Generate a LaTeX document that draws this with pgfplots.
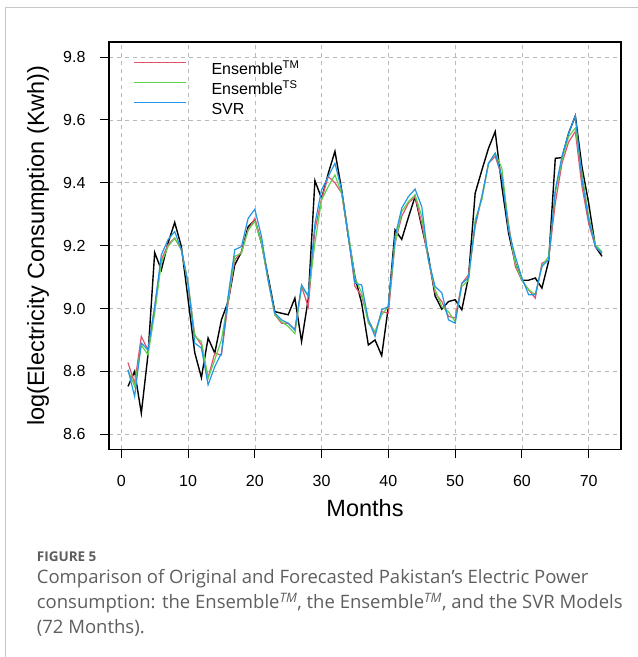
\documentclass[border=0pt]{standalone}
\usepackage{fontspec}
\setmainfont{Liberation Sans}
\newfontfamily\capfont{Open Sans}
\usepackage{pgfplots}
\usepackage{pgfplotstable}
\pgfplotsset{compat=1.18}
\definecolor{rtm}{HTML}{DF536B}
\definecolor{rts}{HTML}{61D04F}
\definecolor{rsvr}{HTML}{2297E6}
\definecolor{capgray}{HTML}{5E5E5E}
\definecolor{framegray}{HTML}{C8C8C8}

\pgfplotstableread{
m orig tm ts svr
1 8.752 8.828 8.805 8.805
2 8.800 8.762 8.752 8.720
3 8.667 8.911 8.884 8.890
4 8.853 8.868 8.852 8.868
5 9.178 9.006 8.985 9.006
6 9.123 9.155 9.144 9.171
7 9.208 9.203 9.197 9.219
8 9.274 9.224 9.224 9.245
9 9.197 9.187 9.187 9.187
10 9.030 9.080 9.080 9.080
11 8.860 8.916 8.911 8.890
12 8.780 8.884 8.895 8.874
13 8.906 8.780 8.778 8.757
14 8.858 8.858 8.837 8.815
15 8.964 8.852 8.900 8.858
16 9.022 9.017 9.027 9.040
17 9.139 9.155 9.166 9.187
18 9.180 9.180 9.176 9.197
19 9.260 9.250 9.250 9.287
20 9.282 9.287 9.277 9.316
21 9.208 9.208 9.208 9.229
22 9.100 9.090 9.090 9.090
23 8.990 8.980 8.980 8.985
24 8.985 8.953 8.958 8.964
25 8.980 8.953 8.943 8.953
26 9.033 8.932 8.920 8.932
27 8.895 9.070 9.070 9.075
28 9.030 9.006 9.040 9.040
29 9.407 9.250 9.208 9.270
30 9.350 9.350 9.346 9.378
31 9.430 9.420 9.388 9.420
32 9.500 9.400 9.425 9.462
33 9.378 9.367 9.367 9.378
34 9.230 9.230 9.240 9.230
35 9.100 9.070 9.097 9.080
36 9.017 9.040 9.050 9.075
37 8.884 8.964 8.953 8.964
38 8.900 8.922 8.927 8.911
39 8.850 8.990 8.980 8.996
40 9.006 8.985 9.006 9.006
41 9.250 9.208 9.208 9.229
42 9.220 9.293 9.308 9.319
43 9.290 9.335 9.340 9.356
44 9.356 9.356 9.362 9.380
45 9.260 9.270 9.293 9.324
46 9.166 9.155 9.155 9.155
47 9.040 9.050 9.060 9.070
48 8.998 9.022 9.006 9.050
49 9.022 8.975 8.990 8.964
50 9.028 8.970 8.958 8.953
51 8.996 9.080 9.070 9.080
52 9.100 9.107 9.090 9.097
53 9.367 9.260 9.282 9.270
54 9.440 9.356 9.346 9.356
55 9.510 9.462 9.462 9.462
56 9.563 9.484 9.494 9.494
57 9.388 9.420 9.446 9.420
58 9.240 9.270 9.260 9.250
59 9.145 9.134 9.144 9.166
60 9.090 9.090 9.090 9.097
61 9.090 9.060 9.060 9.044
62 9.097 9.033 9.044 9.044
63 9.065 9.144 9.134 9.134
64 9.150 9.155 9.166 9.155
65 9.478 9.335 9.367 9.378
66 9.480 9.462 9.473 9.484
67 9.558 9.530 9.547 9.558
68 9.613 9.563 9.574 9.613
69 9.450 9.388 9.430 9.410
70 9.335 9.270 9.293 9.282
71 9.197 9.197 9.203 9.197
72 9.166 9.176 9.180 9.176
}\consumption

\begin{document}
\begin{tikzpicture}
\useasboundingbox (0,0) rectangle (638pt,657pt);
% page frame
\draw[framegray, line width=1pt] (5pt,0pt) -- (5pt,649pt) -- (638pt,649pt);

\begin{axis}[
  at={(109pt,207.7pt)}, anchor=south west,
  scale only axis, width=512pt, height=407.3pt,
  xmin=-1.84, xmax=74.84, ymin=8.552, ymax=9.848,
  xtick={0,10,...,70}, ytick={8.6,8.8,...,9.81},
  xtick pos=bottom, ytick pos=left,
  tick align=outside, major tick length=9pt,
  tick style={black, line width=0.9pt},
  axis line style={black, line width=1.6pt},
  grid=major,
  major grid style={gray!55, line width=0.6pt, dash pattern=on 4pt off 4pt},
  /pgf/number format/assume math mode=true,
  ticklabel style={font=\fontsize{16}{19}\selectfont},
  xticklabel style={yshift=-13pt},
  yticklabel style={xshift=-11pt, /pgf/number format/.cd, fixed, fixed zerofill, precision=1},
  xlabel={Months},
  ylabel={log(Electricity Consumption (Kwh))},
  label style={font=\fontsize{23.5}{28}\selectfont},
  xlabel style={at={(axis description cs:0.5,0)}, anchor=base, yshift=-67.4pt},
  ylabel style={at={(axis description cs:0,0.5)}, anchor=center, yshift=71pt},
  legend cell align=left,
  legend image code/.code={\draw[#1, line width=1.3pt] (0pt,7.7pt) -- (52pt,7.7pt);},
  legend style={draw=none, fill=none, at={(rel axis cs:0.047,0.951)}, anchor=north west,
    font=\fontsize{16}{19}\selectfont, inner sep=0pt, row sep=3.5pt,
    nodes={inner sep=0pt, text height=12pt, text depth=4pt},
    /tikz/every odd column/.append style={column sep=25pt}},
]
\addplot[black, line width=1.4pt, forget plot] table[x=m, y=orig] {\consumption};
\addplot[rtm, line width=1.2pt] table[x=m, y=tm] {\consumption};
\addlegendentry{Ensemble\textsuperscript{TM}}
\addplot[rts, line width=1.2pt] table[x=m, y=ts] {\consumption};
\addlegendentry{Ensemble\textsuperscript{TS}}
\addplot[rsvr, line width=1.2pt] table[x=m, y=svr] {\consumption};
\addlegendentry{SVR}
\end{axis}

\begin{scope}[every node/.style={anchor=base west, inner sep=0pt, text=capgray}]
\node at (36.7pt,95pt) {\capfont\bfseries\fontsize{13.5}{16}\selectfont FIGURE 5};
\node at (36.7pt,73.5pt) {\capfont\fontsize{18.5}{22}\selectfont Comparison of Original and Forecasted Pakistan’s Electric Power};
\node at (36.7pt,48.5pt) {\capfont\fontsize{18.5}{22}\selectfont consumption: the Ensemble\textsuperscript{\itshape TM}, the Ensemble\textsuperscript{\itshape TM}, and the SVR Models};
\node at (36.7pt,23.5pt) {\capfont\fontsize{18.5}{22}\selectfont (72 Months).};
\end{scope}
\end{tikzpicture}
\end{document}
